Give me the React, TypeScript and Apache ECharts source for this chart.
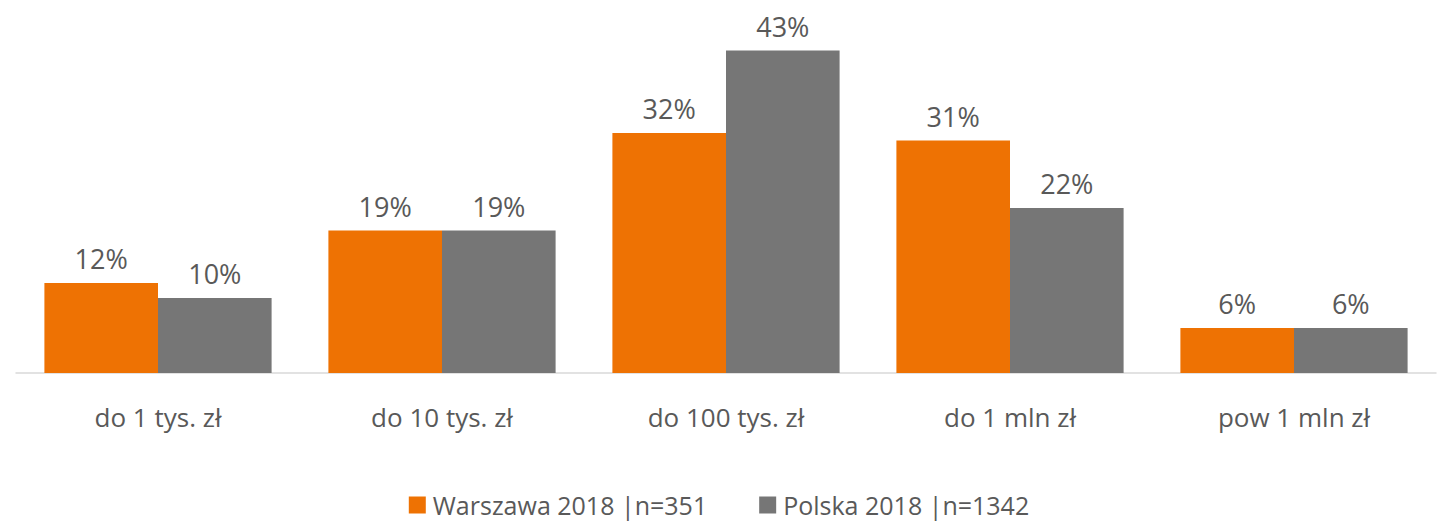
import React, { useEffect, useRef } from "react";
import * as echarts from "echarts";

const categories = ["do 1 tys. zł", "do 10 tys. zł", "do 100 tys. zł", "do 1 mln zł", "pow 1 mln zł"];
const warszawa = [12, 19, 32, 31, 6];
const polska = [10, 19, 43, 22, 6];
const seriesNames = ["Warszawa 2018 |n=351", "Polska 2018 |n=1342"];

const FONT = "'Open Sans', 'Noto Sans', sans-serif";
const TEXT = "#595959";

export default function App() {
  const ref = useRef<HTMLDivElement>(null);
  useEffect(() => {
    document.body.style.margin = "0";
    const chart = echarts.init(ref.current!, null, { renderer: "svg" });
    const label = {
      show: true,
      position: "top",
      distance: 11,
      formatter: "{c}%",
      fontFamily: FONT,
      fontSize: 27,
      color: TEXT,
    };
    chart.setOption({
      animation: false,
      textStyle: { fontFamily: FONT },
      grid: { left: 16, right: 2, top: 35.5, bottom: 148, containLabel: false },
      legend: {
        top: 492,
        left: "center",
        padding: 0,
        itemWidth: 17,
        itemHeight: 17,
        itemGap: 52,
        icon: "rect",
        textStyle: {
          fontFamily: FONT,
          fontSize: 25,
          lineHeight: 26,
          color: TEXT,
          padding: [0, 0, 0, 2],
        },
        data: seriesNames,
      },
      xAxis: {
        type: "category",
        data: categories,
        axisLine: { lineStyle: { color: "#D9D9D9", width: 1.5 } },
        axisTick: { show: false },
        axisLabel: { fontFamily: FONT, fontSize: 26, color: TEXT, margin: 31 },
      },
      yAxis: {
        type: "value",
        min: 0,
        max: 45,
        show: false,
        splitLine: { show: false },
      },
      series: [
        {
          name: seriesNames[0],
          type: "bar",
          data: warszawa,
          barGap: "0%",
          barCategoryGap: "20%",
          itemStyle: { color: "#EE7203" },
          label,
        },
        {
          name: seriesNames[1],
          type: "bar",
          data: polska,
          barGap: "0%",
          barCategoryGap: "20%",
          itemStyle: { color: "#767676" },
          label,
        },
      ],
    });
    return () => chart.dispose();
  }, []);
  return <div ref={ref} style={{ width: 1438, height: 521 }} />;
}
